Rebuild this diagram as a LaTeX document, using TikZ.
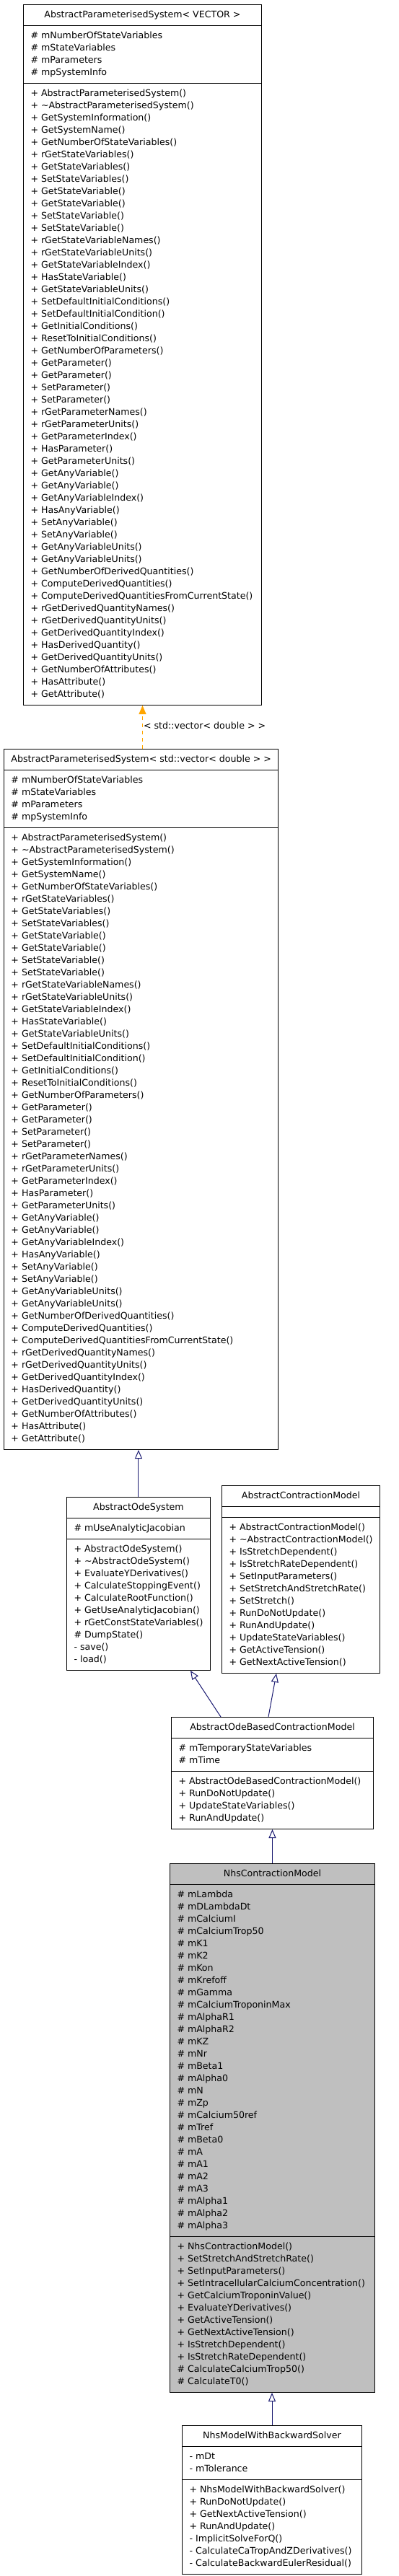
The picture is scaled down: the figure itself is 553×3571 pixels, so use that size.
\documentclass[tikz,border=0pt]{standalone}
\usepackage{fontspec}
\setmainfont{DejaVu Sans}
\usetikzlibrary{shapes.multipart,arrows.meta}
\definecolor{edgeblue}{HTML}{191970}
\definecolor{classgray}{HTML}{BFBFBF}
\definecolor{tmplorange}{HTML}{FFA500}

\newcommand\members[1]{\begin{tabular}{@{}l@{}}#1\end{tabular}}
\newcommand\paramsysfields{\members{\# mNumberOfStateVariables\\
\# mStateVariables\\
\# mParameters\\
\# mpSystemInfo}}
\newcommand\paramsysmethods{\members{+ AbstractParameterisedSystem()\\
+ \textasciitilde AbstractParameterisedSystem()\\
+ GetSystemInformation()\\
+ GetSystemName()\\
+ GetNumberOfStateVariables()\\
+ rGetStateVariables()\\
+ GetStateVariables()\\
+ SetStateVariables()\\
+ GetStateVariable()\\
+ GetStateVariable()\\
+ SetStateVariable()\\
+ SetStateVariable()\\
+ rGetStateVariableNames()\\
+ rGetStateVariableUnits()\\
+ GetStateVariableIndex()\\
+ HasStateVariable()\\
+ GetStateVariableUnits()\\
+ SetDefaultInitialConditions()\\
+ SetDefaultInitialCondition()\\
+ GetInitialConditions()\\
+ ResetToInitialConditions()\\
+ GetNumberOfParameters()\\
+ GetParameter()\\
+ GetParameter()\\
+ SetParameter()\\
+ SetParameter()\\
+ rGetParameterNames()\\
+ rGetParameterUnits()\\
+ GetParameterIndex()\\
+ HasParameter()\\
+ GetParameterUnits()\\
+ GetAnyVariable()\\
+ GetAnyVariable()\\
+ GetAnyVariableIndex()\\
+ HasAnyVariable()\\
+ SetAnyVariable()\\
+ SetAnyVariable()\\
+ GetAnyVariableUnits()\\
+ GetAnyVariableUnits()\\
+ GetNumberOfDerivedQuantities()\\
+ ComputeDerivedQuantities()\\
+ ComputeDerivedQuantitiesFromCurrentState()\\
+ rGetDerivedQuantityNames()\\
+ rGetDerivedQuantityUnits()\\
+ GetDerivedQuantityIndex()\\
+ HasDerivedQuantity()\\
+ GetDerivedQuantityUnits()\\
+ GetNumberOfAttributes()\\
+ HasAttribute()\\
+ GetAttribute()}}

\begin{document}
\begin{tikzpicture}[
x=1pt, y=-1pt,
every node/.style = {font=\fontsize{12.6}{17}\selectfont},
umlclass/.style = {draw, line width=1pt, rectangle split, rectangle split parts=3,
  rectangle split part align={center,left,left}, anchor=north west,
  inner xsep=10pt, inner ysep=5.5pt},
inherit/.style = {draw=edgeblue, line width=1pt, -{Triangle[length=12pt,width=10pt,fill=white]}},
tmpl/.style = {draw=tmplorange, line width=1pt, dash pattern=on 5pt off 5pt, -{Triangle[length=12pt,width=10pt]}},
]
  \useasboundingbox (0,0) rectangle (553,3571);

  \node[umlclass, minimum width=330pt] (paramvec) at (32,6)
    {\members{AbstractParameterisedSystem< VECTOR >}
    \nodepart{two}\paramsysfields
    \nodepart{three}\paramsysmethods};

  \node[umlclass, minimum width=367pt] (paramdbl) at (5,1038)
    {\members{AbstractParameterisedSystem< std::vector< double > >}
    \nodepart{two}\paramsysfields
    \nodepart{three}\paramsysmethods};

  \node[umlclass, minimum width=193pt] (odesys) at (92,2075)
    {\members{AbstractOdeSystem}
    \nodepart{two}\members{\# mUseAnalyticJacobian}
    \nodepart{three}\members{+ AbstractOdeSystem()\\
      + \textasciitilde AbstractOdeSystem()\\
      + EvaluateYDerivatives()\\
      + CalculateStoppingEvent()\\
      + CalculateRootFunction()\\
      + GetUseAnalyticJacobian()\\
      + rGetConstStateVariables()\\
      \# DumpState()\\
      - save()\\
      - load()}};

  \node[umlclass, minimum width=211pt] (contraction) at (307,2059)
    {\members{AbstractContractionModel}
    \nodepart{two}\members{}
    \nodepart{three}\members{+ AbstractContractionModel()\\
      + \textasciitilde AbstractContractionModel()\\
      + IsStretchDependent()\\
      + IsStretchRateDependent()\\
      + SetInputParameters()\\
      + SetStretchAndStretchRate()\\
      + SetStretch()\\
      + RunDoNotUpdate()\\
      + RunAndUpdate()\\
      + UpdateStateVariables()\\
      + GetActiveTension()\\
      + GetNextActiveTension()}};

  \node[umlclass, minimum width=280pt] (odebased) at (237,2380)
    {\members{AbstractOdeBasedContractionModel}
    \nodepart{two}\members{\# mTemporaryStateVariables\\
      \# mTime}
    \nodepart{three}\members{+ AbstractOdeBasedContractionModel()\\
      + RunDoNotUpdate()\\
      + UpdateStateVariables()\\
      + RunAndUpdate()}};

  \node[umlclass, minimum width=284pt, fill=classgray] (nhs) at (235,2583)
    {\members{NhsContractionModel}
    \nodepart{two}\members{\# mLambda\\ \# mDLambdaDt\\ \# mCalciumI\\ \# mCalciumTrop50\\
      \# mK1\\ \# mK2\\ \# mKon\\ \# mKrefoff\\ \# mGamma\\ \# mCalciumTroponinMax\\
      \# mAlphaR1\\ \# mAlphaR2\\ \# mKZ\\ \# mNr\\ \# mBeta1\\ \# mAlpha0\\ \# mN\\
      \# mZp\\ \# mCalcium50ref\\ \# mTref\\ \# mBeta0\\ \# mA\\ \# mA1\\ \# mA2\\
      \# mA3\\ \# mAlpha1\\ \# mAlpha2\\ \# mAlpha3}
    \nodepart{three}\members{+ NhsContractionModel()\\
      + SetStretchAndStretchRate()\\
      + SetInputParameters()\\
      + SetIntracellularCalciumConcentration()\\
      + GetCalciumTroponinValue()\\
      + EvaluateYDerivatives()\\
      + GetActiveTension()\\
      + GetNextActiveTension()\\
      + IsStretchDependent()\\
      + IsStretchRateDependent()\\
      \# CalculateCalciumTrop50()\\
      \# CalculateT0()}};

  \node[umlclass, minimum width=249pt] (nhsbackward) at (252,3362)
    {\members{NhsModelWithBackwardSolver}
    \nodepart{two}\members{- mDt\\
      - mTolerance}
    \nodepart{three}\members{+ NhsModelWithBackwardSolver()\\
      + RunDoNotUpdate()\\
      + GetNextActiveTension()\\
      + RunAndUpdate()\\
      - ImplicitSolveForQ()\\
      - CalculateCaTropAndZDerivatives()\\
      - CalculateBackwardEulerResidual()}};

  \draw[tmpl] (paramvec.south |- paramdbl.north) -- node[anchor=west, inner sep=1pt, pos=0.53] (vectorlabel) {< std::vector< double > >} (paramvec.south);
  \draw[inherit] (odesys.north) -- (odesys.north |- paramdbl.south);
  \draw[inherit] ([xshift=69pt]odebased.north west) -- ([xshift=172pt]odesys.south west);
  \draw[inherit] ([xshift=135pt]odebased.north west) -- ([xshift=76pt]contraction.south west);
  \draw[inherit] (nhs.north) -- (nhs.north |- odebased.south);
  \draw[inherit] (nhsbackward.north) -- (nhsbackward.north |- nhs.south);
\end{tikzpicture}
\end{document}
